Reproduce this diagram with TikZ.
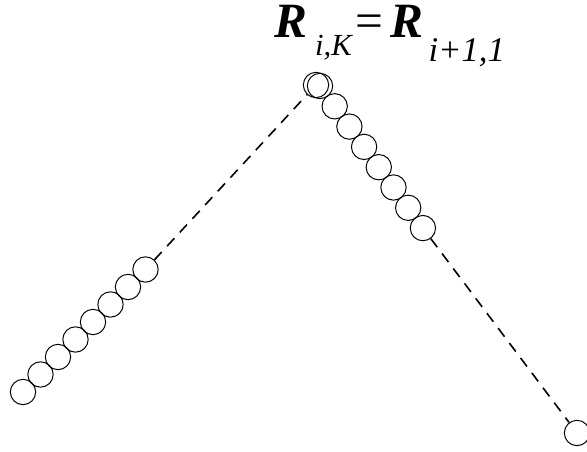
\documentclass[tikz,border=0pt]{standalone}
\usepackage{fontspec}
\setmainfont{Liberation Serif}
\usepackage{tikz}
\usetikzlibrary{positioning}

\tikzset{
    bead/.style={circle, draw, line width=0.75pt, minimum size=19pt, inner sep=0pt},
    link/.style={line width=1.2pt, dash pattern=on 8pt off 6pt}
}

\begin{document}
\begin{tikzpicture}[x=0.75pt, y=-0.75pt]
        \useasboundingbox (0,0) rectangle (587,452);

        % label
        \node[anchor=base west, inner sep=0pt] (lbl) at (274,38)
            {\fontsize{37}{40}\selectfont\textbf{\textit{R}}\hspace{6pt}\raisebox{-13pt}{\fontsize{23}{25}\selectfont\textit{i,K}}\hspace{2pt}=\hspace{5pt}\textbf{\textit{R}}\hspace{4pt}\raisebox{-18pt}{\fontsize{26}{28}\selectfont\textit{i+1,1}}};

        % left chain
        \foreach \i in {1,...,8} {
            \node[bead] (l\i) at ({23+17.5*(\i-1)},{392-17.5*(\i-1)}) {};
        }

        % right chain
        \node[bead] (top) at (316,85) {};
        \foreach \i in {1,...,8} {
            \node[bead] (r\i) at ({320+14.7*(\i-1)},{86+20.3*(\i-1)}) {};
        }
        \node[bead] (tail) at (577,433) {};

        % dashed links
        \draw[link] (l8) -- (top);
        \draw[link] (r8) -- (tail);
    \end{tikzpicture}
\end{document}
